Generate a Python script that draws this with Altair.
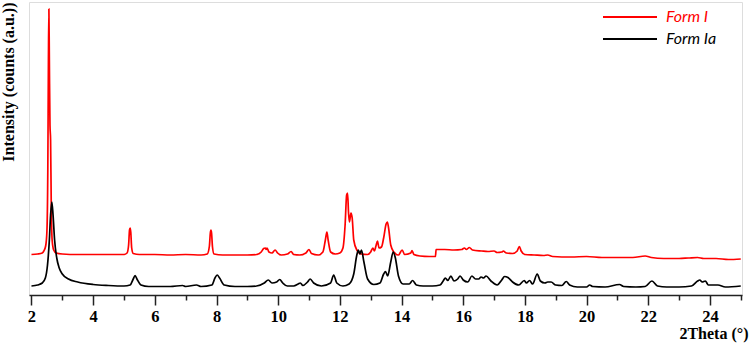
import altair as alt
import pandas as pd

# ---- data (2Theta in degrees, intensity in a.u.) ----
form_i_2theta = [2.0, 2.2, 2.35, 2.40, 2.46, 2.50, 2.53, 2.55, 2.565, 2.58, 2.60, 2.62, 2.64, 2.67, 2.72, 2.80,
                 3.0, 3.5, 4.0, 4.5, 5.0, 5.10, 5.15, 5.18, 5.20, 5.22, 5.25, 5.30, 5.5, 6.0, 6.5, 7.0, 7.5,
                 7.7, 7.77, 7.80, 7.82, 7.84, 7.87, 7.92, 8.2, 8.6, 9.0, 9.3, 9.45, 9.53, 9.58, 9.61, 9.64,
                 9.70, 9.80, 9.90, 9.98, 10.1, 10.3, 10.42, 10.50, 10.7, 10.9, 11.0, 11.08, 11.3, 11.45,
                 11.53, 11.58, 11.62, 11.70, 11.85, 12.0, 12.1, 12.17, 12.22, 12.25, 12.28, 12.31, 12.36,
                 12.40, 12.45, 12.55, 12.7, 12.9, 13.0, 13.07, 13.12, 13.17, 13.22, 13.27, 13.35, 13.42,
                 13.50, 13.54, 13.58, 13.65, 13.75, 13.9, 14.02, 14.1, 14.3, 14.34, 14.40, 14.6, 14.9,
                 15.1, 15.12, 15.4, 15.7, 15.95, 16.04, 16.1, 16.2, 16.3, 16.6, 16.8, 17.0, 17.1, 17.25,
                 17.3, 17.4, 17.6, 17.75, 17.82, 17.88, 18.0, 18.3, 18.6, 18.74, 18.9, 19.5, 20.0, 20.5,
                 21.0, 21.5, 21.9, 22.1, 22.5, 23.0, 23.3, 23.6, 23.8, 24.2, 24.6, 25.0]
form_i_intensity = [40.5, 41, 42, 44, 49, 63, 125, 235, 286, 235, 170, 155, 95, 55, 45, 42,
                    41, 40.5, 40.5, 40.5, 40.5, 42, 50, 65, 67, 63, 47, 41.5, 40.5, 40.5, 40, 40.5, 40,
                    41, 49, 62, 65, 62, 48, 41, 40, 40, 40, 40.5, 43, 46.5, 47, 45.5, 47,
                    43, 42, 45, 42, 40, 41, 43.5, 40.5, 40, 42, 45.5, 41.5, 40, 43,
                    55, 63, 55, 43, 41, 42, 47, 70, 100, 102, 83, 73, 82,
                    77, 55, 45, 41, 40.5, 43, 47, 44, 49, 54, 47, 48, 57,
                    71, 73, 67, 50, 43, 40, 45, 40.5, 42, 44.5, 40.5, 39, 38.5,
                    38.5, 45.5, 45.5, 45, 45.5, 47, 45.5, 47.5, 45, 44, 43.5, 44, 42.5, 43,
                    44, 42, 41.5, 44, 48.5, 44, 40.5, 40, 39.5, 40, 38.5, 38, 38.5, 37.5,
                    37.5, 37.5, 39, 37.5, 36.5, 36.5, 37, 37.5, 36.5, 36.5, 35.5, 36]

form_ia_2theta = [2.0, 2.2, 2.35, 2.45, 2.52, 2.58, 2.62, 2.66, 2.70, 2.75, 2.82, 2.9, 3.0, 3.2, 3.5,
                  4.0, 4.5, 5.0, 5.2, 5.3, 5.36, 5.42, 5.55, 5.8, 6.5, 6.9, 7.0, 7.35, 7.5, 7.85, 7.95,
                  8.02, 8.10, 8.25, 8.6, 9.0, 9.3, 9.55, 9.68, 9.80, 9.95, 10.05, 10.15, 10.3, 10.5,
                  10.65, 10.72, 10.8, 10.95, 11.04, 11.15, 11.4, 11.7, 11.8, 11.9, 12.1, 12.3, 12.45,
                  12.55, 12.6, 12.65, 12.7, 12.78, 12.9, 13.1, 13.3, 13.42, 13.48, 13.55, 13.65, 13.73,
                  13.80, 13.9, 14.05, 14.25, 14.36, 14.48, 14.7, 15.0, 15.25, 15.35, 15.42, 15.5, 15.6,
                  15.7, 15.82, 15.9, 16.0, 16.15, 16.28, 16.4, 16.5, 16.58, 16.66, 16.74, 16.9, 17.1,
                  17.25, 17.34, 17.45, 17.6, 17.8, 17.98, 18.05, 18.15, 18.25, 18.4, 18.5, 18.65, 18.74,
                  18.85, 19.0, 19.2, 19.34, 19.45, 19.7, 20.0, 20.1, 20.2, 20.6, 21.07, 21.2, 21.6, 21.9,
                  22.12, 22.3, 22.6, 23.0, 23.4, 23.6, 23.67, 23.75, 23.85, 23.95, 24.26, 24.5, 25.0]
form_ia_intensity = [9, 10, 12, 17, 30, 55, 80, 93, 80, 55, 37, 27, 21, 16, 13,
                     10.5, 9.5, 9, 10, 16, 19.5, 16, 10, 8.5, 8.5, 9.5, 8.5, 10, 8.5, 10, 17,
                     20, 17, 10, 8.5, 8.5, 9, 12, 15, 12, 13, 15.5, 12, 9, 9,
                     11, 12, 9.5, 13, 16, 12, 9, 12, 20, 12, 9, 11, 21,
                     40, 45, 41, 45, 33, 16, 10.5, 12, 21, 23.5, 19, 33, 43,
                     37, 19, 11, 11, 14.5, 10, 9, 9, 10, 14, 17, 14.5, 19,
                     14, 16, 19, 15, 13, 19, 16, 16, 18, 17, 19, 14, 10,
                     15, 18.5, 17.5, 13, 10, 14.5, 12, 14.5, 11, 21, 14, 12, 13,
                     13, 10, 9.5, 13.5, 10, 8, 8, 10, 8.5, 8, 10.5, 8.5, 8, 8.5,
                     14, 9, 8, 8, 9, 14, 15, 13, 14, 10, 10, 8, 9]

series_names = ["Form I", "Form Ia"]
series_colors = ["#ff0000", "#000000"]
x_major_ticks = [2, 4, 6, 8, 10, 12, 14, 16, 18, 20, 22, 24]
x_minor_ticks = [3, 5, 7, 9, 11, 13, 15, 17, 19, 21, 23, 25]

df = pd.concat([
    pd.DataFrame({"theta": form_i_2theta, "intensity": form_i_intensity, "series": series_names[0], "order": 0}),
    pd.DataFrame({"theta": form_ia_2theta, "intensity": form_ia_intensity, "series": series_names[1], "order": 1}),
])

serif = "Liberation Serif"
x_scale = alt.Scale(domain=[1.92, 25.04], nice=False, zero=False)
y_scale = alt.Scale(domain=[0, 293], nice=False)

y_axis = alt.Axis(
    labels=False, ticks=False, grid=False, domain=False,
    title="Intensity (counts (a.u.))",
    titleFont=serif, titleFontWeight="bold", titleFontSize=16, titleColor="#000000",
    titleAngle=-90, titleX=-13, titleY=0, titleAlign="right", titleBaseline="bottom",
)

lines = alt.Chart(df).mark_line(strokeWidth=1.7, interpolate="monotone", clip=True).encode(
    x=alt.X("theta:Q", scale=x_scale,
            axis=alt.Axis(
                values=x_major_ticks,
                tickSize=10, tickColor="#222222", tickWidth=1.5,
                domainColor="#222222", domainWidth=1.5,
                labelFont=serif, labelFontWeight="bold", labelFontSize=16.5, labelColor="#000000",
                labelPadding=3, labelFlush=False,
                grid=False,
                title="2Theta (°)",
                titleFont=serif, titleFontWeight="bold", titleFontSize=16, titleColor="#000000",
                titleX=719, titleY=38, titleAlign="right", titleBaseline="middle", titleAnchor="end",
                orient="bottom",
            )),
    y=alt.Y("intensity:Q", scale=y_scale, axis=y_axis),
    color=alt.Color("series:N",
                    scale=alt.Scale(domain=series_names, range=series_colors),
                    legend=alt.Legend(
                        title=None, orient="none", legendX=573, legendY=4,
                        symbolType="stroke", symbolSize=2916, symbolStrokeWidth=2,
                        clipHeight=22, rowPadding=0, labelOffset=8, padding=0,
                        labelFont="Lato", labelFontStyle="italic", labelFontSize=16,
                        labelColor=alt.ExprRef(expr="datum.label == 'Form I' ? '#ff0000' : '#000000'"),
                    )),
    order=alt.Order("order:Q"),
    detail="series:N",
)

minor = alt.Chart(df).mark_line(opacity=0, clip=True).encode(
    x=alt.X("theta:Q", scale=x_scale,
            axis=alt.Axis(values=x_minor_ticks, tickSize=5, tickColor="#222222", tickWidth=1.5,
                          labels=False, domain=False, grid=False, title=None, orient="bottom")),
    y=alt.Y("intensity:Q", scale=y_scale, axis=y_axis),
    detail="series:N",
)

chart = alt.layer(lines, minor).resolve_axis(x="independent").properties(
    width=713, height=293,
    autosize=alt.AutoSizeParams(type="none"),
    padding={"left": 29, "top": 2, "right": 8, "bottom": 48},
).configure_view(stroke="#808080", strokeWidth=1.5).configure(background="white")

chart.save("out.html", embed_options={"renderer": "svg", "actions": False})
